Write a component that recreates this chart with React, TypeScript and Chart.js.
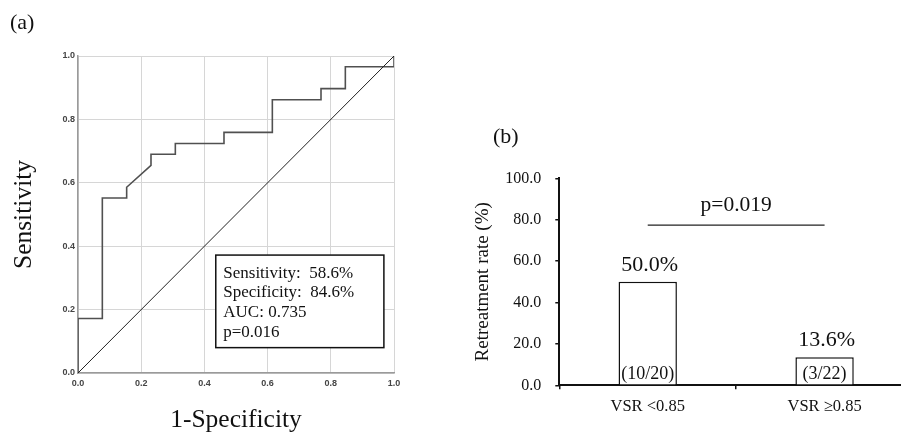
import React, { useEffect, useRef } from "react";
import { Chart, registerables } from "chart.js";

Chart.register(...registerables);

// ---------- Panel (a): ROC curve ----------
const rocFpr = [0, 0, 0.077, 0.077, 0.154, 0.154, 0.231, 0.231, 0.308, 0.308, 0.462, 0.462, 0.615, 0.615, 0.769, 0.769, 0.846, 0.846, 1.0, 1.0];
const rocTpr = [0, 0.172, 0.172, 0.552, 0.552, 0.586, 0.655, 0.69, 0.69, 0.724, 0.724, 0.759, 0.759, 0.862, 0.862, 0.897, 0.897, 0.966, 0.966, 1.0];
const refFpr = [0, 1];
const refTpr = [0, 1];
const rocTicks = [0, 0.2, 0.4, 0.6, 0.8, 1.0];
const rocStats = ["Sensitivity:  58.6%", "Specificity:  84.6%", "AUC: 0.735", "p=0.016"];

// ---------- Panel (b): retreatment rate ----------
const groups = ["VSR <0.85", "VSR \u22650.85"];
const rates = [50.0, 13.6];
const rateLabels = ["50.0%", "13.6%"];
const counts = ["(10/20)", "(3/22)"];
const pValue = "p=0.019";
const rateTicks = [0, 20, 40, 60, 80, 100];

const SERIF = '"Liberation Serif", "Times New Roman", serif';
const SANS = '"Liberation Sans", Arial, sans-serif';

const panelLabel = {
  id: "panelLabel",
  afterDraw(chart: any, _args: any, o: any) {
    const ctx = chart.ctx;
    ctx.save();
    ctx.font = `${o.size}px ${SERIF}`;
    ctx.fillStyle = "#111";
    ctx.textAlign = "left";
    ctx.textBaseline = "middle";
    ctx.fillText(o.text, o.x, o.y);
    ctx.restore();
  },
};

const statsBox = {
  id: "statsBox",
  afterDatasetsDraw(chart: any, _args: any, o: any) {
    const { x, y } = chart.scales;
    const ctx = chart.ctx;
    const l = x.getPixelForValue(o.x0);
    const r = x.getPixelForValue(o.x1);
    const t = y.getPixelForValue(o.y1);
    const b = y.getPixelForValue(o.y0);
    ctx.save();
    ctx.fillStyle = "#fff";
    ctx.fillRect(l, t, r - l, b - t);
    ctx.strokeStyle = "#111";
    ctx.lineWidth = 1.5;
    ctx.strokeRect(l, t, r - l, b - t);
    ctx.font = `17px ${SERIF}`;
    ctx.fillStyle = "#111";
    ctx.textAlign = "left";
    ctx.textBaseline = "middle";
    rocStats.forEach((s, i) => {
      ctx.fillText(s, l + 7.5, t + 18 + i * 19.8);
    });
    ctx.restore();
  },
};

const barNotes = {
  id: "barNotes",
  afterDatasetsDraw(chart: any, _args: any, o: any) {
    const xs = chart.scales.x;
    const ys = chart.scales.y;
    const ctx = chart.ctx;
    ctx.save();
    ctx.fillStyle = "#111";
    ctx.textAlign = "center";
    ctx.textBaseline = "middle";
    rates.forEach((v, i) => {
      const px = xs.getPixelForValue(i);
      ctx.font = `22px ${SERIF}`;
      ctx.fillText(rateLabels[i], px + 2, ys.getPixelForValue(v) - 16.5);
      ctx.font = `18px ${SERIF}`;
      ctx.fillText(counts[i], px, ys.getPixelForValue(0) - 11);
    });
    const x0 = xs.getPixelForValue(0);
    const x1 = xs.getPixelForValue(1);
    const ly = ys.getPixelForValue(o.lineValue);
    ctx.strokeStyle = "#222";
    ctx.lineWidth = 1.2;
    ctx.beginPath();
    ctx.moveTo(x0, ly);
    ctx.lineTo(x1, ly);
    ctx.stroke();
    ctx.font = `21.5px ${SERIF}`;
    ctx.fillText(pValue, (x0 + x1) / 2, ys.getPixelForValue(o.textValue));
    ctx.restore();
  },
};

export default function App() {
  const aRef = useRef<HTMLCanvasElement | null>(null);
  const bRef = useRef<HTMLCanvasElement | null>(null);

  useEffect(() => {
    const rocChart = new Chart(aRef.current as HTMLCanvasElement, {
      type: "scatter",
      data: {
        datasets: [
          {
            data: refFpr.map((x, i) => ({ x, y: refTpr[i] })),
            showLine: true,
            borderColor: "#222",
            borderWidth: 1,
            pointRadius: 0,
            tension: 0,
          },
          {
            data: rocFpr.map((x, i) => ({ x, y: rocTpr[i] })),
            showLine: true,
            borderColor: "#505050",
            borderWidth: 1.6,
            pointRadius: 0,
            tension: 0,
          },
        ],
      },
      options: {
        animation: false,
        responsive: false,
        events: [],
        layout: { padding: { left: 0, top: 56, right: 26, bottom: 0 } },
        plugins: {
          legend: { display: false },
          tooltip: { enabled: false },
          panelLabel: { text: "(a)", x: 10, y: 23, size: 22 },
          statsBox: { x0: 0.436, x1: 0.968, y0: 0.08, y1: 0.372 },
        } as any,
        scales: {
          x: {
            type: "linear",
            min: 0,
            max: 1,
            afterBuildTicks: (s: any) => {
              s.ticks = rocTicks.map((v) => ({ value: v }));
            },
            afterFit: (s: any) => {
              s.height = 60;
            },
            grid: { color: "#d6d6d6", lineWidth: 1, drawTicks: false },
            border: { color: "#9a9a9a", width: 1.5 },
            ticks: {
              font: { family: SANS, size: 9, weight: "bold" },
              color: "#444",
              padding: 5,
              maxRotation: 0,
              callback: (v: any) => Number(v).toFixed(1),
            },
            title: {
              display: true,
              text: "1-Specificity",
              color: "#111",
              font: { family: SERIF, size: 25.5, lineHeight: 1 },
              padding: { top: 0, bottom: 0 },
            },
          },
          y: {
            type: "linear",
            min: 0,
            max: 1,
            afterBuildTicks: (s: any) => {
              s.ticks = rocTicks.map((v) => ({ value: v }));
            },
            afterFit: (s: any) => {
              s.width = 78;
            },
            grid: { color: "#d6d6d6", lineWidth: 1, drawTicks: false },
            border: { color: "#9a9a9a", width: 1.5 },
            ticks: {
              font: { family: SANS, size: 9, weight: "bold" },
              color: "#444",
              padding: 3,
              callback: (v: any) => Number(v).toFixed(1),
            },
            title: {
              display: true,
              text: "Sensitivity",
              color: "#111",
              font: { family: SERIF, size: 25.5, lineHeight: 1 },
              padding: { top: 11.5, bottom: 0 },
            },
          },
        },
      },
      plugins: [panelLabel, statsBox],
    } as any);

    const barChart = new Chart(bRef.current as HTMLCanvasElement, {
      type: "bar",
      data: {
        labels: groups,
        datasets: [
          {
            data: rates,
            backgroundColor: "#fff",
            borderColor: "#111",
            borderWidth: 1.5,
            categoryPercentage: 1,
            barPercentage: 0.33,
          },
        ],
      },
      options: {
        animation: false,
        responsive: false,
        events: [],
        layout: { padding: { left: 0, top: 178.3, right: 7, bottom: 0 } },
        plugins: {
          legend: { display: false },
          tooltip: { enabled: false },
          panelLabel: { text: "(b)", x: 73, y: 137, size: 22 },
          barNotes: { lineValue: 77.4, textValue: 87.1 },
        } as any,
        scales: {
          x: {
            afterFit: (s: any) => {
              s.height = 47.7;
            },
            grid: {
              display: true,
              drawOnChartArea: false,
              drawTicks: true,
              tickLength: 4,
              color: "#111",
              lineWidth: 1.5,
              offset: true,
            },
            border: { color: "#111", width: 2 },
            ticks: {
              font: { family: SERIF, size: 16.5 },
              color: "#111",
              padding: 7,
              maxRotation: 0,
            },
          },
          y: {
            min: 0,
            max: 100,
            afterBuildTicks: (s: any) => {
              s.ticks = rateTicks.map((v) => ({ value: v }));
            },
            afterFit: (s: any) => {
              s.width = 139.3;
            },
            grid: {
              drawOnChartArea: false,
              drawTicks: true,
              tickLength: 4,
              color: "#111",
              lineWidth: 1.5,
            },
            border: { color: "#111", width: 2 },
            ticks: {
              font: { family: SERIF, size: 16 },
              color: "#111",
              padding: 14,
              callback: (v: any) => Number(v).toFixed(1),
            },
            title: {
              display: true,
              text: "Retreatment rate (%)",
              color: "#111",
              font: { family: SERIF, size: 19, lineHeight: 1 },
              padding: { top: 53.5, bottom: 0 },
            },
          },
        },
      },
      plugins: [panelLabel, barNotes],
    } as any);

    return () => {
      rocChart.destroy();
      barChart.destroy();
    };
  }, []);

  return (
    <div
      style={{
        position: "fixed",
        left: 0,
        top: 0,
        width: 901,
        height: 433,
        overflow: "hidden",
        background: "#fff",
      }}
    >
      <canvas ref={aRef} width={420} height={433} style={{ position: "absolute", left: 0, top: 0 }} />
      <canvas ref={bRef} width={500} height={433} style={{ position: "absolute", left: 420, top: 0 }} />
    </div>
  );
}
